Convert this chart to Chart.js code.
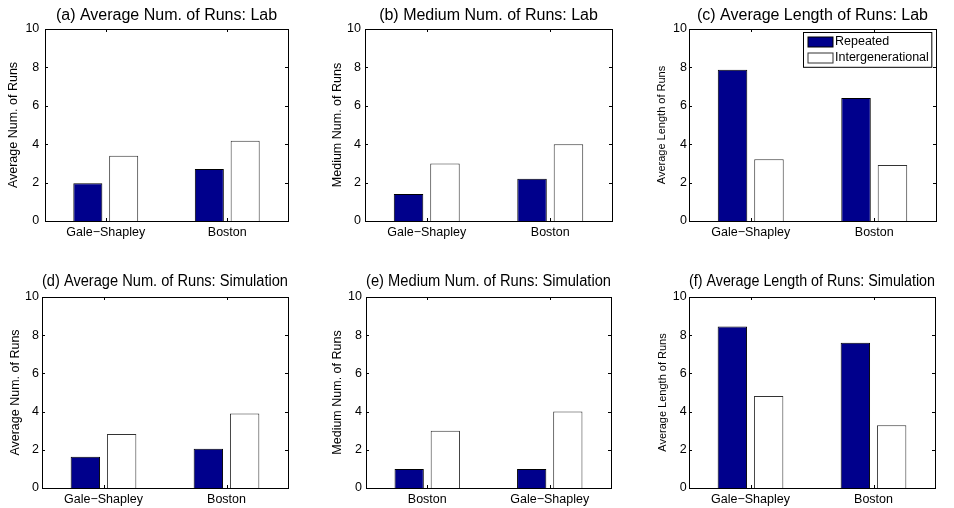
<!DOCTYPE html>
<html>
<head>
<meta charset="utf-8">
<script src="https://cdn.jsdelivr.net/npm/chart.js@4.4.1/dist/chart.umd.min.js"></script>
<style>
  body { margin: 0; background: #fff; width: 954px; height: 508px; position: relative; overflow: hidden; }
  canvas { position: absolute; }
</style>
</head>
<body>
<canvas id="chartA" width="318" height="250" style="left:0px;top:0px"></canvas>
<canvas id="chartB" width="318" height="250" style="left:318px;top:0px"></canvas>
<canvas id="chartC" width="318" height="250" style="left:636px;top:0px"></canvas>
<canvas id="chartD" width="318" height="240" style="left:0px;top:268px"></canvas>
<canvas id="chartE" width="318" height="240" style="left:318px;top:268px"></canvas>
<canvas id="chartF" width="318" height="240" style="left:636px;top:268px"></canvas>
<script>
// data
const seriesNames = ['Repeated', 'Intergenerational'];
const catsGB = ['Gale\u2212Shapley', 'Boston'];
const catsBG = ['Boston', 'Gale\u2212Shapley'];
const yTicks = [0, 2, 4, 6, 8, 10];

const repA = [1.96, 2.71], intA = [3.40, 4.18];
const repB = [1.40, 2.20], intB = [3.00, 4.00];
const repC = [7.88, 6.40], intC = [3.22, 2.92];
const repD = [1.64, 2.06], intD = [2.83, 3.90];
const repE = [1.00, 1.00], intE = [3.00, 4.00];
const repF = [8.45, 7.61], intF = [4.82, 3.28];

const titles = [
  '(a) Average Num. of Runs: Lab',
  '(b) Medium Num. of Runs: Lab',
  '(c) Average Length of Runs: Lab',
  '(d) Average Num. of Runs: Simulation',
  '(e) Medium Num. of Runs: Simulation',
  '(f) Average Length of Runs: Simulation'
];
const yTitles = [
  'Average Num. of Runs', 'Medium Num. of Runs', 'Average Length of Runs',
  'Average Num. of Runs', 'Medium Num. of Runs', 'Average Length of Runs'
];

const NAVY = 'rgb(0,0,140)';
Chart.defaults.font.family = "'Liberation Sans', Arial, Helvetica, sans-serif";
Chart.defaults.color = '#000';

// matlab style box + inward ticks
const boxPlugin = {
  id: 'matlabBox',
  afterDatasetsDraw(chart) {
    const { ctx, chartArea: a, scales: { x, y } } = chart;
    ctx.save();
    ctx.strokeStyle = '#000';
    ctx.lineWidth = 1;
    ctx.beginPath();
    y.ticks.forEach(t => {
      const py = Math.round(y.getPixelForValue(t.value)) + 0.5;
      ctx.moveTo(a.left, py); ctx.lineTo(a.left + 3, py);
      ctx.moveTo(a.right, py); ctx.lineTo(a.right - 3, py);
    });
    x.ticks.forEach((t, i) => {
      const px = Math.round(x.getPixelForTick(i)) + 0.5;
      ctx.moveTo(px, a.bottom); ctx.lineTo(px, a.bottom - 3);
      ctx.moveTo(px, a.top); ctx.lineTo(px, a.top + 3);
    });
    ctx.stroke();
    ctx.strokeRect(Math.round(a.left) + 0.5, Math.round(a.top) + 0.5,
      Math.round(a.right - a.left), Math.round(a.bottom - a.top));
    ctx.restore();
  }
};

// boxed legend inside the plot (panel c only)
const boxLegend = {
  id: 'boxLegend',
  afterDraw(chart, args, opts) {
    if (!opts.show) return;
    const { ctx, chartArea: a } = chart;
    const sets = chart.data.datasets;
    ctx.save();
    ctx.font = "12.5px 'Liberation Sans', Arial, sans-serif";
    const textW = Math.max(...sets.map(d => ctx.measureText(d.label).width));
    const sw = 25, sh = 10, padL = 4.5, gap = 2, padR = 3, rowH = 15.8, padT = 1.6;
    const w = padL + sw + gap + textW + padR;
    const h = padT * 2 + rowH * sets.length;
    const left = Math.round(a.right - 5 - w) + 0.5;
    const top = Math.round(a.top + 3) + 0.5;
    ctx.fillStyle = '#fff';
    ctx.fillRect(left, top, w, h);
    ctx.strokeStyle = '#000';
    ctx.lineWidth = 1;
    ctx.strokeRect(left, top, w, h);
    sets.forEach((d, i) => {
      const cy = top + padT + rowH * i + rowH / 2;
      ctx.fillStyle = d.backgroundColor;
      ctx.fillRect(left + padL, Math.round(cy - sh / 2), sw, sh);
      ctx.strokeStyle = d.borderColor;
      ctx.strokeRect(left + padL, Math.round(cy - sh / 2), sw, sh);
      ctx.fillStyle = '#000';
      ctx.textBaseline = 'middle';
      ctx.fillText(d.label, left + padL + sw + gap, cy);
    });
    ctx.restore();
  }
};

const rows = [
  { titleTop: 5.6, titleBottom: 4.2, padBottom: 9 },
  { titleTop: 3.6, titleBottom: 6.2, padBottom: 0 }
];

const panels = [
  { id: 'chartA', cats: catsGB, rep: repA, int: intA, row: 0, padLeft: 6.5, yWidth: 38.5, padRight: 30, tickPad: 5.7, ySize: 12.5 },
  { id: 'chartB', cats: catsGB, rep: repB, int: intB, row: 0, padLeft: 12.5, yWidth: 34.5, padRight: 24, tickPad: 4, ySize: 12.5 },
  { id: 'chartC', cats: catsGB, rep: repC, int: intC, row: 0, padLeft: 19.4, yWidth: 33.6, padRight: 18, tickPad: 2, ySize: 11, legend: true },
  { id: 'chartD', cats: catsGB, rep: repD, int: intD, row: 1, padLeft: 7.8, yWidth: 34.2, padRight: 30, tickPad: 3, ySize: 12.5 },
  { id: 'chartE', cats: catsBG, rep: repE, int: intE, row: 1, padLeft: 12.5, yWidth: 35.5, padRight: 25, tickPad: 4, ySize: 12.5 },
  { id: 'chartF', cats: catsGB, rep: repF, int: intF, row: 1, padLeft: 20.4, yWidth: 32.6, padRight: 19, tickPad: 2.3, ySize: 11 }
];

panels.forEach((p, k) => {
  const r = rows[p.row];
  new Chart(document.getElementById(p.id).getContext('2d'), {
    type: 'bar',
    data: {
      labels: p.cats,
      datasets: [
        { label: seriesNames[0], data: p.rep, backgroundColor: NAVY, borderColor: '#000', borderWidth: 1,
          categoryPercentage: 0.59, barPercentage: 0.81 },
        { label: seriesNames[1], data: p.int, backgroundColor: '#fff', borderColor: '#333', borderWidth: 1,
          categoryPercentage: 0.59, barPercentage: 0.81 }
      ]
    },
    options: {
      responsive: false,
      animation: false,
      devicePixelRatio: 1,
      layout: { padding: { left: p.padLeft, right: p.padRight, top: 0, bottom: r.padBottom } },
      plugins: {
        legend: { display: false },
        tooltip: { enabled: false },
        title: {
          display: true, text: titles[k], color: '#000', fullSize: false,
          font: { size: 16, weight: 'normal' },
          padding: { top: r.titleTop, bottom: r.titleBottom }
        },
        boxLegend: { show: !!p.legend }
      },
      scales: {
        x: {
          ticks: { color: '#000', font: { size: 12.5 }, padding: 4, maxRotation: 0, autoSkip: false },
          grid: { display: false, drawTicks: false },
          border: { display: false },
          afterFit(scale) { scale.height = 20; }
        },
        y: {
          min: 0, max: 10,
          afterBuildTicks(scale) { scale.ticks = yTicks.map(v => ({ value: v })); },
          ticks: { color: '#000', font: { size: 12.5 }, padding: p.tickPad },
          grid: { display: false, drawTicks: false },
          border: { display: false },
          title: { display: true, text: yTitles[k], color: '#000', font: { size: p.ySize }, padding: 0 },
          afterFit(scale) { scale.width = p.yWidth; }
        }
      }
    },
    plugins: [boxPlugin, boxLegend]
  });
});
</script>
</body>
</html>
